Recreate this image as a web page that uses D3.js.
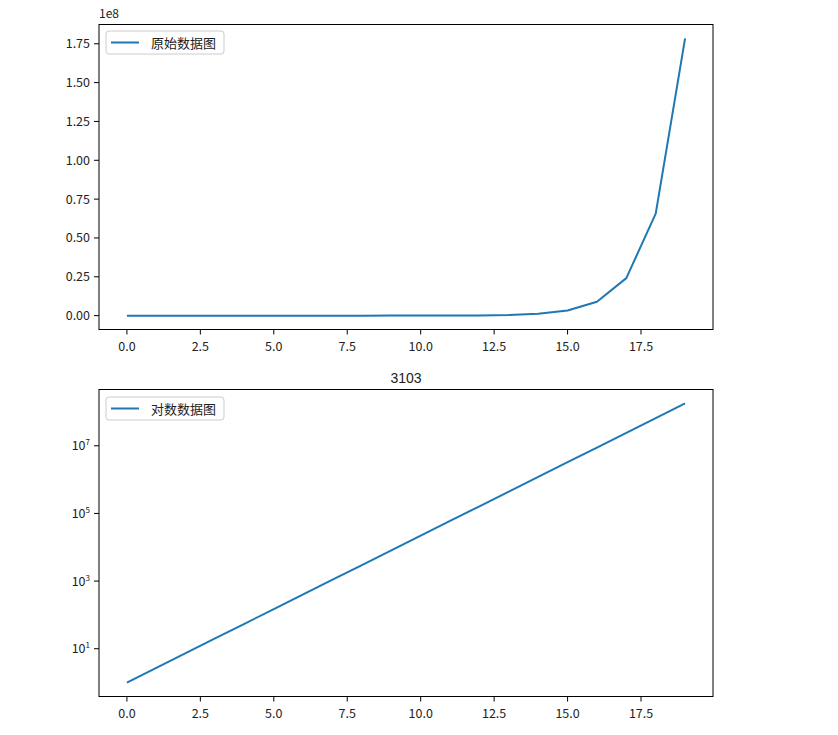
<!DOCTYPE html>
<html>
<head>
<meta charset="utf-8">
<script src="https://cdn.jsdelivr.net/npm/d3@7"></script>
<style>
  body { margin: 0; background: #fff; }
  svg { display: block; }
  text { font-family: "Noto Sans CJK SC", "DejaVu Sans", sans-serif; fill: #222; }
</style>
</head>
<body>
<div id="chart"></div>
<script>
// x positions and values (y grows like e^x)
const xValues = [0, 1, 2, 3, 4, 5, 6, 7, 8, 9, 10, 11, 12, 13, 14, 15, 16, 17, 18, 19];
const yValues = [1, 2.718, 7.389, 20.09, 54.60, 148.4, 403.4, 1096.6, 2981.0, 8103.1,
                 22026.5, 59874.1, 162754.8, 442413.4, 1202604.3, 3269017.4,
                 8886110.5, 24154952.8, 65659969.1, 178482301.0];
const xTicks = [0, 2.5, 5, 7.5, 10, 12.5, 15, 17.5];
const topYTicks = [0, 0.25, 0.5, 0.75, 1.0, 1.25, 1.5, 1.75];   // in units of 1e8
const logYTicks = [1, 3, 5, 7];                                  // exponents of 10
const legendTop = "原始数据图";
const legendBottom = "对数数据图";
const bottomTitle = "3103";

const width = 838, height = 735;
const left = 99, right = 713;
const lineColor = "#1f77b4";

const svg = d3.select("#chart").append("svg")
    .attr("width", width)
    .attr("height", height);

// matplotlib style 5% margins
const xPad = (d3.max(xValues) - d3.min(xValues)) * 0.05;
const x = d3.scaleLinear()
    .domain([d3.min(xValues) - xPad, d3.max(xValues) + xPad])
    .range([left, right]);

function drawXAxis(g, y0) {
    const ax = g.append("g").attr("transform", `translate(0,${y0})`);
    xTicks.forEach(t => {
        ax.append("line").attr("x1", x(t)).attr("x2", x(t))
            .attr("y1", 0).attr("y2", 5).attr("stroke", "#000").attr("stroke-width", 1);
        ax.append("text").attr("x", x(t)).attr("y", 21)
            .attr("text-anchor", "middle").style("font-size", "12.5px")
            .text(t.toFixed(1));
    });
}

function drawFrame(g, y0, y1) {
    g.append("rect").attr("x", left).attr("y", y0)
        .attr("width", right - left).attr("height", y1 - y0)
        .attr("fill", "none").attr("stroke", "#000").attr("stroke-width", 1);
}

function drawLegend(g, y0, label) {
    const lg = g.append("g").attr("transform", `translate(106,${y0})`);
    lg.append("rect").attr("width", 118).attr("height", 23).attr("rx", 3)
        .attr("fill", "#fff").attr("fill-opacity", 0.8)
        .attr("stroke", "#ccc").attr("stroke-width", 1);
    lg.append("line").attr("x1", 5).attr("x2", 33).attr("y1", 11.5).attr("y2", 11.5)
        .attr("stroke", lineColor).attr("stroke-width", 2);
    lg.append("text").attr("x", 45).attr("y", 16.5).style("font-size", "13px").text(label);
}

// ---- top panel: raw data ----
const top0 = 24.5, top1 = 329.5;
const yMax = d3.max(yValues), yMin = d3.min(yValues);
const yPad = yMax * 0.05;
const yTop = d3.scaleLinear()
    .domain([-yPad, yMax + yPad])
    .range([top1, top0]);

const gTop = svg.append("g");
gTop.append("path")
    .datum(xValues.map((v, i) => [v, yValues[i]]))
    .attr("fill", "none").attr("stroke", lineColor).attr("stroke-width", 2)
    .attr("stroke-linejoin", "round")
    .attr("d", d3.line().x(d => x(d[0])).y(d => yTop(d[1])));

topYTicks.forEach(t => {
    const yy = yTop(t * 1e8);
    gTop.append("line").attr("x1", left - 5).attr("x2", left)
        .attr("y1", yy).attr("y2", yy).attr("stroke", "#000").attr("stroke-width", 1);
    gTop.append("text").attr("x", left - 9).attr("y", yy + 4.5)
        .attr("text-anchor", "end").style("font-size", "12.5px")
        .text(t.toFixed(2));
});
gTop.append("text").attr("x", 99).attr("y", 18).style("font-size", "12px").text("1e8");
drawFrame(gTop, top0, top1);
drawXAxis(gTop, top1);
drawLegend(gTop, 31, legendTop);

// ---- bottom panel: log scale ----
const bot0 = 389.5, bot1 = 696.5;
const lMin = Math.log10(yMin), lMax = Math.log10(yMax);
const lPad = (lMax - lMin) * 0.05;
const yLog = d3.scaleLog()
    .domain([Math.pow(10, lMin - lPad), Math.pow(10, lMax + lPad)])
    .range([bot1, bot0]);

const gBot = svg.append("g");
gBot.append("path")
    .datum(xValues.map((v, i) => [v, yValues[i]]))
    .attr("fill", "none").attr("stroke", lineColor).attr("stroke-width", 2)
    .attr("stroke-linejoin", "round")
    .attr("d", d3.line().x(d => x(d[0])).y(d => yLog(d[1])));

logYTicks.forEach(e => {
    const yy = yLog(Math.pow(10, e));
    gBot.append("line").attr("x1", left - 5).attr("x2", left)
        .attr("y1", yy).attr("y2", yy).attr("stroke", "#000").attr("stroke-width", 1);
    const t = gBot.append("text").attr("x", left - 9).attr("y", yy + 4.5)
        .attr("text-anchor", "end").style("font-size", "12.5px");
    t.append("tspan").text("10");
    t.append("tspan").attr("dy", -5).style("font-size", "8px").text(e);
});
gBot.append("text").attr("x", (left + right) / 2).attr("y", 383)
    .attr("text-anchor", "middle").style("font-size", "14px")
    .style("font-family", "'Liberation Sans', sans-serif")
    .text(bottomTitle);
drawFrame(gBot, bot0, bot1);
drawXAxis(gBot, bot1);
drawLegend(gBot, 397, legendBottom);
</script>
</body>
</html>
